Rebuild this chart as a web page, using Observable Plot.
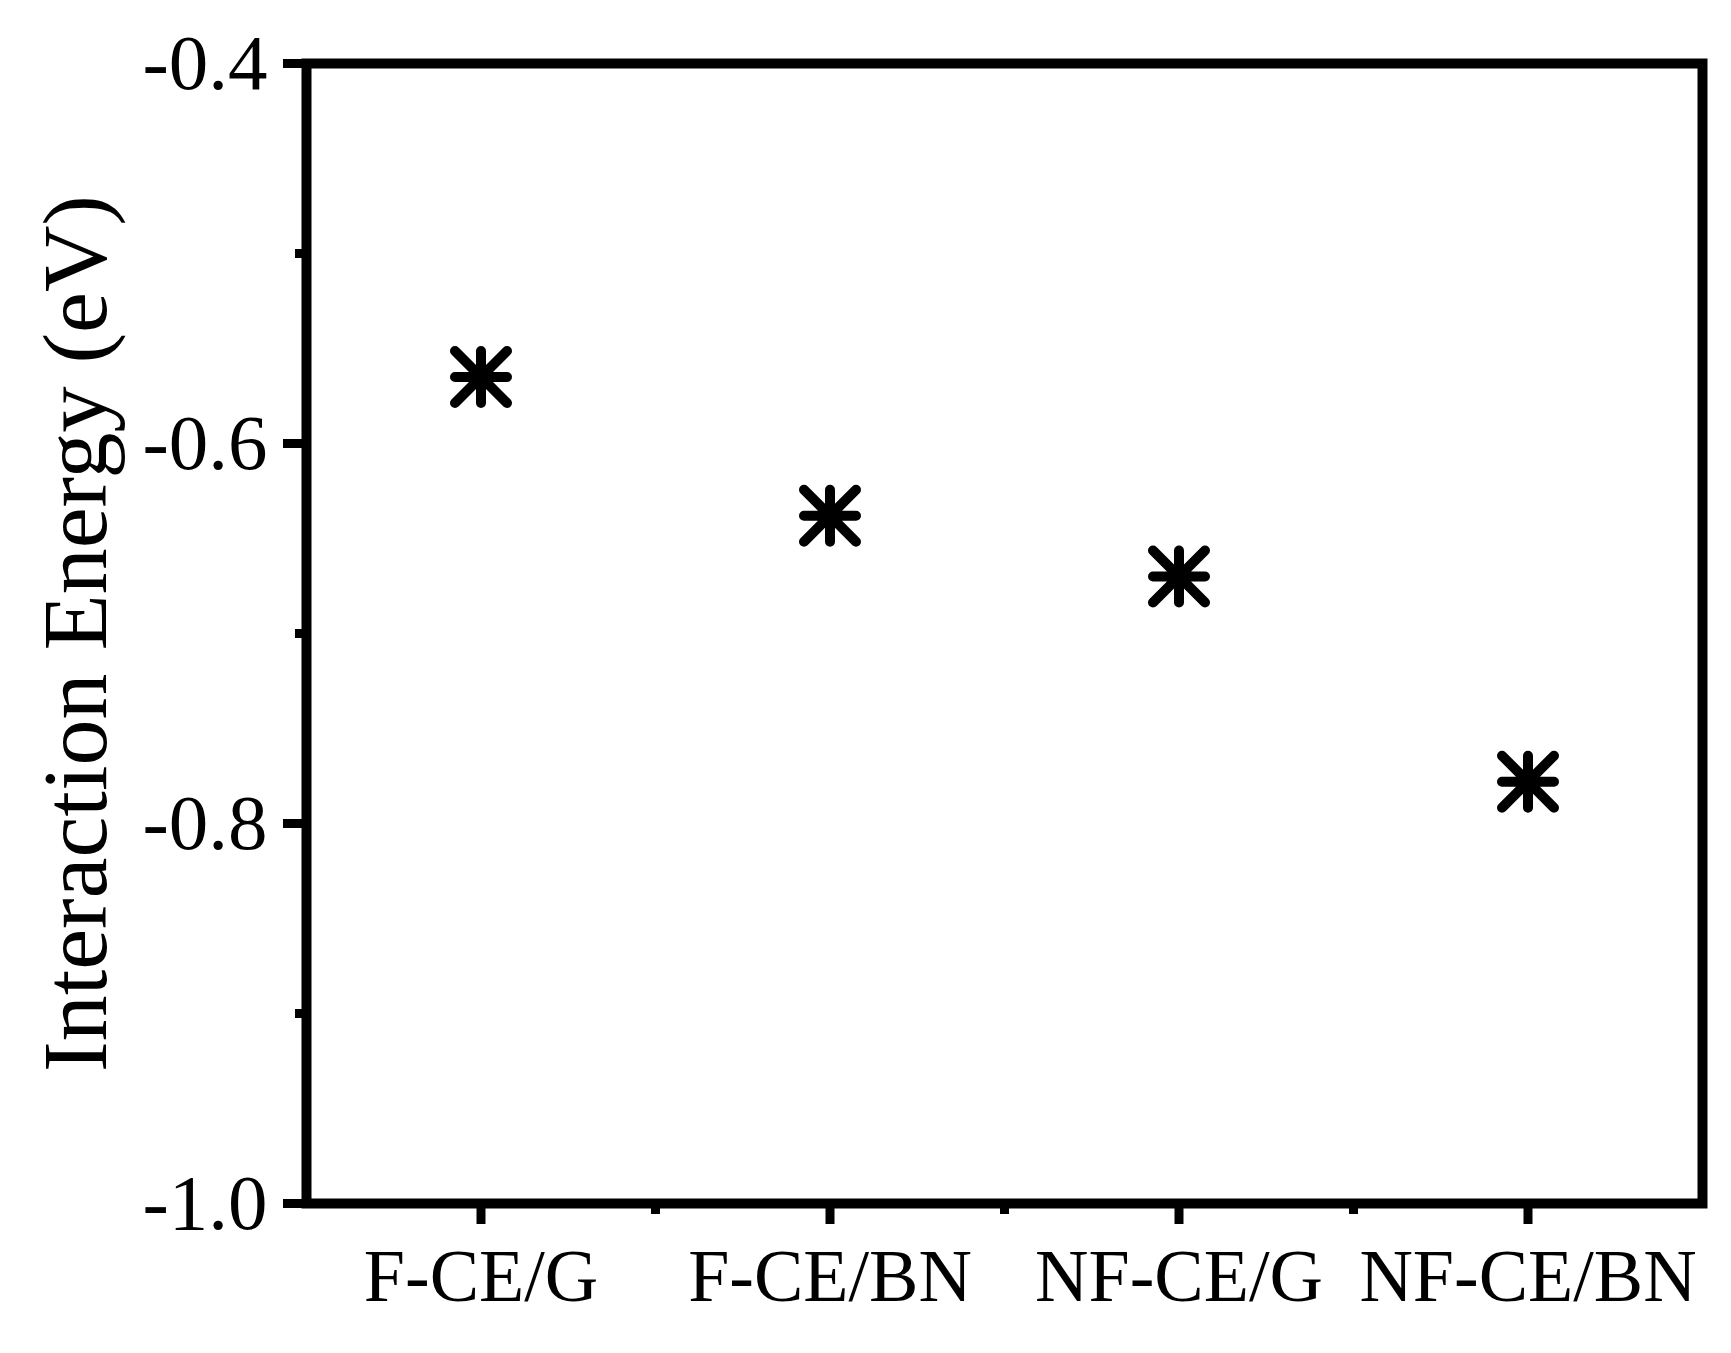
<!DOCTYPE html>
<html>
<head>
<meta charset="utf-8">
<script src="https://cdn.jsdelivr.net/npm/d3@7"></script>
<script src="https://cdn.jsdelivr.net/npm/@observablehq/plot@0.6"></script>
<style>
  html, body { margin: 0; padding: 0; background: #ffffff; }
  #chart svg { display: block; }
</style>
</head>
<body>
<div id="chart"></div>
<script>
const categories = ["F-CE/G", "F-CE/BN", "NF-CE/G", "NF-CE/BN"];
const energies = [-0.565, -0.638, -0.670, -0.778];
const yTicks = [-1.0, -0.8, -0.6, -0.4];
const yMinorTicks = [-0.9, -0.7, -0.5];
const xMinorTicks = [0.5, 1.5, 2.5];
const yLabel = "Interaction Energy (eV)";

const data = categories.map((c, i) => ({index: i, category: c, energy: energies[i]}));

// eight-armed asterisk (+ and ×)
const asterisk8 = {
  draw(context, size) {
    const r = Math.sqrt(size / Math.PI);
    context.moveTo(-r, 0); context.lineTo(r, 0);
    context.moveTo(0, -r); context.lineTo(0, r);
    context.moveTo(-r, -r); context.lineTo(r, r);
    context.moveTo(-r, r); context.lineTo(r, -r);
  }
};

const font = "'Liberation Serif', 'Times New Roman', serif";

const chart = Plot.plot({
  width: 1731,
  height: 1353,
  marginLeft: 306,
  marginTop: 63,
  marginRight: 29,
  marginBottom: 150,
  style: {fontFamily: font, color: "black", background: "white"},
  x: {domain: [-0.5, 3.5]},
  y: {domain: [-1.0, -0.4]},
  marks: [
    Plot.axisY(yTicks, {
      anchor: "left", tickSize: 23, tickPadding: 16, strokeWidth: 9,
      fontSize: 79, tickFormat: d => d.toFixed(1), label: null
    }),
    Plot.axisY(yMinorTicks, {
      anchor: "left", tickSize: 11, strokeWidth: 9, tickFormat: () => "", label: null
    }),
    Plot.axisX([0, 1, 2, 3], {
      anchor: "bottom", tickSize: 21, tickPadding: 24, strokeWidth: 9,
      fontSize: 74, tickFormat: i => categories[i], label: null
    }),
    Plot.axisX(xMinorTicks, {
      anchor: "bottom", tickSize: 11, strokeWidth: 9, tickFormat: () => "", label: null
    }),
    Plot.frame({stroke: "black", strokeWidth: 10}),
    Plot.text([yLabel], {
      text: d => d, frameAnchor: "left", rotate: -90, dx: -230,
      fontSize: 92, fill: "black", textAnchor: "middle", lineAnchor: "middle"
    }),
    Plot.dot(data, {
      x: "index", y: "energy", r: 26, symbol: asterisk8,
      stroke: "black", fill: "none", strokeWidth: 10, strokeLinecap: "round"
    })
  ]
});

document.getElementById("chart").appendChild(chart);
</script>
</body>
</html>
